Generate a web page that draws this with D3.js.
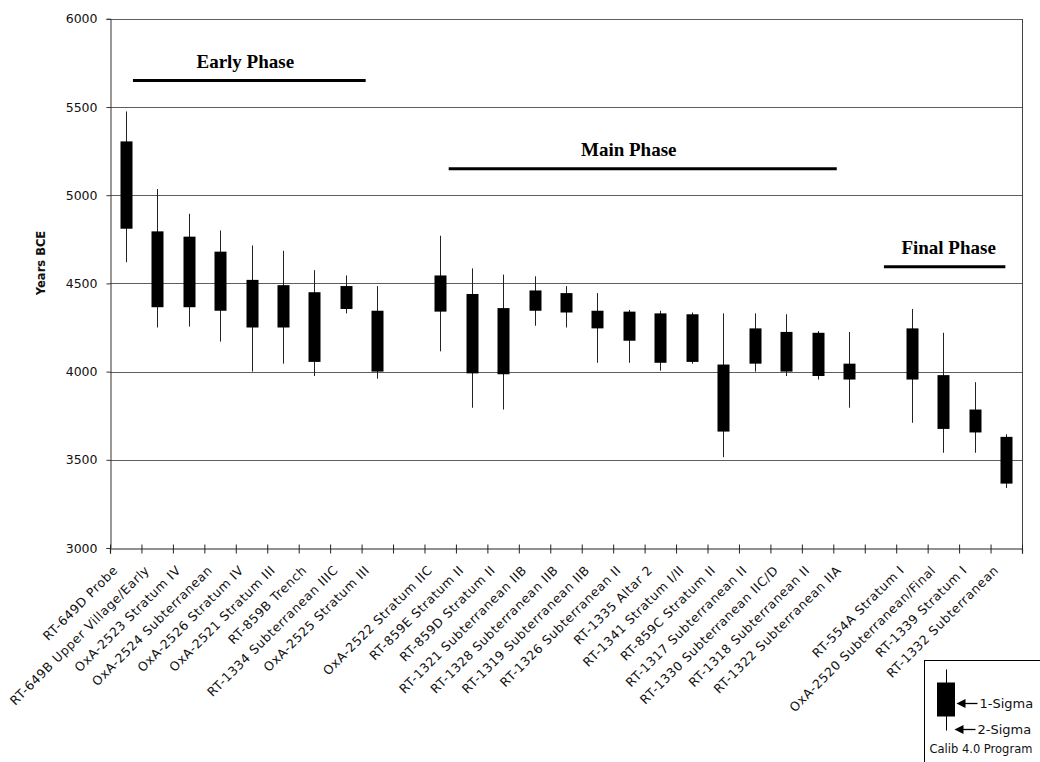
<!DOCTYPE html>
<html>
<head>
<meta charset="utf-8">
<script src="https://cdn.jsdelivr.net/npm/d3@7/dist/d3.min.js"></script>
<style>
  html, body { margin: 0; padding: 0; background: #fff; }
  svg { display: block; }
</style>
</head>
<body>
<svg id="chart" width="1040" height="762"></svg>
<script>
// Radiocarbon samples, in site order; empty names leave a gap between phases
const categories = [
  "RT-649D Probe", "RT-649B Upper Village/Early", "OxA-2523 Stratum IV",
  "OxA-2524 Subterranean", "OxA-2526 Stratum IV", "OxA-2521 Stratum III",
  "RT-859B Trench", "RT-1334 Subterranean IIIC", "OxA-2525 Stratum III",
  "",
  "OxA-2522 Stratum IIC", "RT-859E Stratum II", "RT-859D Stratum II",
  "RT-1321 Subterranean IIB", "RT-1328 Subterranean IIB", "RT-1319 Subterranean IIB",
  "RT-1326 Subterranean II", "RT-1335 Altar 2", "RT-1341 Stratum I/II",
  "RT-859C Stratum II", "RT-1317 Subterranean II", "RT-1330 Subterranean IIC/D",
  "RT-1318 Subterranean II", "RT-1322 Subterranean IIA",
  "",
  "RT-554A Stratum I", "OxA-2520 Subterranean/Final", "RT-1339 Stratum I",
  "RT-1332 Subterranean"
];

// Calibrated ranges (years BCE)
const sigma2Low  = [4620, 4250, 4255, 4170, 4000, 4045, 3975, 4330, 3960, null,
                    4115, 3795, 3785, 4260, 4250, 4050, 4050, 4005, 4045, 3515,
                    4000, 3975, 3955, 3795, null, 3710, 3540, 3540, 3340];
const sigma1Low  = [4810, 4365, 4365, 4345, 4250, 4250, 4055, 4355, 4000, null,
                    4340, 3990, 3985, 4345, 4335, 4245, 4175, 4050, 4055, 3660,
                    4045, 4000, 3975, 3955, null, 3955, 3675, 3655, 3365];
const sigma1High = [5305, 4795, 4765, 4680, 4520, 4490, 4450, 4485, 4345, null,
                    4545, 4440, 4360, 4460, 4445, 4345, 4340, 4330, 4325, 4040,
                    4245, 4225, 4220, 4045, null, 4245, 3980, 3785, 3630];
const sigma2High = [5475, 5035, 4895, 4800, 4715, 4685, 4575, 4545, 4485, null,
                    4770, 4585, 4550, 4540, 4485, 4445, 4350, 4345, 4335, 4330,
                    4330, 4325, 4230, 4225, null, 4355, 4220, 3940, 3645];

const yTicks = [3000, 3500, 4000, 4500, 5000, 5500, 6000];

// Phase spans, in category positions, and the level (years BCE) of each bar
const phaseNames = ["Early Phase", "Main Phase", "Final Phase"];
const phaseStart = [0.73, 10.77, 24.61];
const phaseEnd   = [8.13, 23.11, 28.47];
const phaseLevel = [5650, 5150, 4595];

const legendLabels = ["1-Sigma", "2-Sigma", "Calib 4.0 Program"];

const plotLeft = 110, plotRight = 1022, plotTop = 18.8, plotBottom = 548;
const svg = d3.select("#chart");

const slots = d3.range(categories.length);
const x = d3.scaleBand().domain(slots).range([plotLeft, plotRight]).padding(0);
const xPos = d3.scaleLinear().domain([0, categories.length]).range([plotLeft, plotRight]);
const y = d3.scaleLinear().domain([3000, 6000]).range([plotBottom, plotTop]);

// Horizontal gridlines
svg.append("g")
  .selectAll("line")
  .data(yTicks.slice(1))
  .join("line")
  .attr("x1", plotLeft).attr("x2", plotRight)
  .attr("y1", d => Math.round(y(d)) + 0.5).attr("y2", d => Math.round(y(d)) + 0.5)
  .attr("stroke", "#5e5e5e").attr("stroke-width", 1);

// Right border
svg.append("line")
  .attr("x1", plotRight + 0.5).attr("x2", plotRight + 0.5)
  .attr("y1", Math.round(y(6000))).attr("y2", Math.round(y(3000)) + 1)
  .attr("stroke", "#444").attr("stroke-width", 1);

// Y axis
const yAxis = svg.append("g")
  .attr("transform", `translate(${plotLeft + 0.5},0)`)
  .call(d3.axisLeft(y).tickValues(yTicks).tickSize(4).tickPadding(9).tickFormat(d3.format("d")));
yAxis.select(".domain").attr("stroke", "#333");
yAxis.selectAll(".tick line").attr("stroke", "#333");
yAxis.selectAll("text")
  .attr("font-family", "DejaVu Sans, sans-serif")
  .attr("font-size", "12.5px")
  .attr("fill", "#111");

// X axis: ticks at category boundaries crossing the baseline
const xAxis = svg.append("g")
  .attr("transform", `translate(0,${Math.round(y(3000)) + 0.5})`)
  .call(d3.axisBottom(xPos).tickValues(d3.range(categories.length + 1)).tickSize(5).tickFormat(""));
xAxis.select(".domain").attr("stroke", "#222").attr("stroke-width", 1.2);
xAxis.selectAll(".tick line").attr("y1", -4).attr("stroke", "#222");

// Category labels
svg.append("g")
  .selectAll("text")
  .data(slots)
  .join("text")
  .attr("transform", i => `translate(${x(i) + x.bandwidth() / 2 - 7},${plotBottom + 23}) rotate(-45)`)
  .attr("text-anchor", "end")
  .attr("font-family", "DejaVu Sans, sans-serif")
  .attr("font-size", "12.5px")
  .attr("letter-spacing", "0.6px")
  .attr("fill", "#111")
  .text(i => categories[i]);

// Y axis title
svg.append("text")
  .attr("transform", "translate(45,263) rotate(-90)")
  .attr("text-anchor", "middle")
  .attr("font-family", "DejaVu Sans, sans-serif")
  .attr("font-weight", "bold")
  .attr("font-size", "11.5px")
  .attr("fill", "#111")
  .text("Years BCE");

// Sample ranges: thin 2-sigma whisker, solid 1-sigma box
const samples = slots.filter(i => sigma1Low[i] !== null);
const boxW = 12;
const marks = svg.append("g");
marks.selectAll("line")
  .data(samples)
  .join("line")
  .attr("x1", i => Math.round(x(i) + x.bandwidth() / 2) + 0.5)
  .attr("x2", i => Math.round(x(i) + x.bandwidth() / 2) + 0.5)
  .attr("y1", i => y(sigma2High[i]))
  .attr("y2", i => y(sigma2Low[i]))
  .attr("stroke", "#222").attr("stroke-width", 1);
marks.selectAll("rect")
  .data(samples)
  .join("rect")
  .attr("x", i => Math.round(x(i) + x.bandwidth() / 2) - boxW / 2 + 0.5)
  .attr("width", boxW)
  .attr("y", i => y(sigma1High[i]))
  .attr("height", i => y(sigma1Low[i]) - y(sigma1High[i]))
  .attr("fill", "#000");

// Phase bars and headings
const titleShift = [-4, -14, 4];
const phases = svg.append("g");
phaseNames.forEach((name, k) => {
  const x1 = xPos(phaseStart[k]), x2 = xPos(phaseEnd[k]);
  phases.append("line")
    .attr("x1", x1).attr("x2", x2)
    .attr("y1", y(phaseLevel[k])).attr("y2", y(phaseLevel[k]))
    .attr("stroke", "#000").attr("stroke-width", 3);
  phases.append("text")
    .attr("x", (x1 + x2) / 2 + titleShift[k])
    .attr("y", y(phaseLevel[k]) - 13)
    .attr("text-anchor", "middle")
    .attr("font-family", "Liberation Serif, serif")
    .attr("font-weight", "bold")
    .attr("font-size", "19px")
    .attr("fill", "#000")
    .text(name);
});

// Legend
const lg = svg.append("g").attr("transform", "translate(924.5,660.5)");
lg.append("rect").attr("width", 130).attr("height", 110)
  .attr("fill", "#fff").attr("stroke", "#000").attr("stroke-width", 1);
lg.append("line").attr("x1", 22).attr("x2", 22).attr("y1", 9).attr("y2", 70)
  .attr("stroke", "#000").attr("stroke-width", 1);
lg.append("rect").attr("x", 12.5).attr("y", 22).attr("width", 18).attr("height", 34).attr("fill", "#000");
const arrows = [{tip: 32, y: 43, label: legendLabels[0]}, {tip: 30, y: 69, label: legendLabels[1]}];
arrows.forEach(a => {
  lg.append("line").attr("x1", a.tip + 6).attr("x2", a.tip + 21).attr("y1", a.y).attr("y2", a.y)
    .attr("stroke", "#000").attr("stroke-width", 1.3);
  lg.append("path")
    .attr("d", `M${a.tip},${a.y} L${a.tip + 9},${a.y - 4.5} L${a.tip + 9},${a.y + 4.5} Z`)
    .attr("fill", "#000");
  lg.append("text").attr("x", a.tip + 23).attr("y", a.y + 4.5)
    .attr("font-family", "DejaVu Sans, sans-serif").attr("font-size", "13px").attr("fill", "#111")
    .text(a.label);
});
lg.append("text").attr("x", 5).attr("y", 92)
  .attr("font-family", "DejaVu Sans, sans-serif").attr("font-size", "11.5px").attr("fill", "#111")
  .text(legendLabels[2]);
</script>
</body>
</html>
